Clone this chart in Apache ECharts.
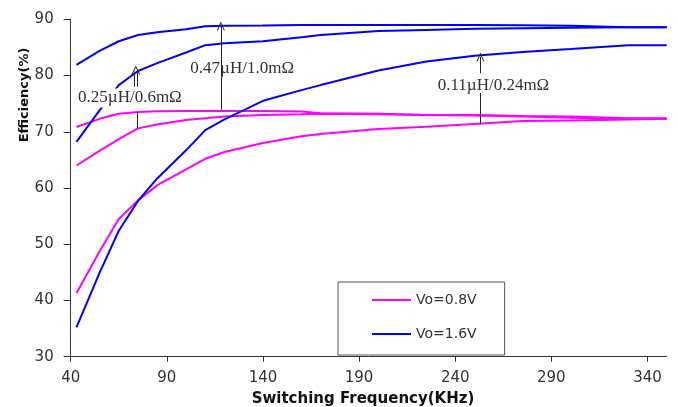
<!DOCTYPE html>
<html><head><meta charset="utf-8">
<script src="https://cdn.jsdelivr.net/npm/echarts@6/dist/echarts.min.js"></script>
<style>html,body{margin:0;padding:0;background:#fff}#c{width:678px;height:407px}</style>
</head><body><div id="c"></div>
<script>
// Switching frequency (KHz) sample points
const freq = [43, 55, 65, 75, 85, 100, 110, 120, 140, 160, 170, 200, 225, 250, 275, 300, 330, 350];
// Vo = 1.6V (blue)
const blue047 = [81.9, 84.4, 86.1, 87.2, 87.7, 88.25, 88.75, 88.85, 88.9, 89.0, 89.0, 89.0, 89.0, 89.0, 88.95, 88.85, 88.6, 88.6];
const blue025 = [68.2, 73.8, 78.3, 80.8, 82.2, 84.1, 85.4, 85.75, 86.1, 86.8, 87.2, 87.9, 88.1, 88.3, 88.4, 88.5, 88.6, 88.6];
const blue011 = [35.2, 44.9, 52.4, 57.7, 61.7, 66.7, 70.3, 72.2, 75.5, 77.4, 78.3, 80.9, 82.5, 83.5, 84.2, 84.7, 85.4, 85.4];
// Vo = 0.8V (magenta)
const pink047 = [70.85, 72.3, 73.2, 73.5, 73.65, 73.7, 73.7, 73.7, 73.7, 73.6, 73.3, 73.2, 73.0, 73.0, 72.8, 72.7, 72.4, 72.4];
const pink025 = [64.0, 66.6, 68.7, 70.6, 71.3, 72.1, 72.4, 72.7, 73.0, 73.1, 73.2, 73.1, 73.0, 72.9, 72.7, 72.5, 72.3, 72.3];
const pink011 = [41.3, 48.7, 54.5, 57.8, 60.5, 63.3, 65.2, 66.4, 68.0, 69.2, 69.6, 70.5, 70.9, 71.4, 71.9, 72.0, 72.2, 72.3];

const xTicks = [40, 90, 140, 190, 240, 290, 340];
const legendNames = ['Vo=0.8V', 'Vo=1.6V'];

// annotations (data units)
const annoText = ['0.47\u00b5H/1.0m\u03a9', '0.25\u00b5H/0.6m\u03a9', '0.11\u00b5H/0.24m\u03a9'];
const annoTextPos = [[129.2, 81.2], [70.8, 76.0], [259.9, 78.3]];
const annoLineX = [118.1, 74.4, 253.1];
const annoLowerSeg = [[73.9, 88.8], [70.7, 73.5], [71.4, 76.9]];
const annoUpperSeg = [null, [78.0, 81.0], [80.4, 83.3]];
const annoDoubleX = [null, [73.1, 74.6], null];

const pair = (ys) => freq.map((f, i) => [f, ys[i]]);

const chevron = 'path://M0,9 L4,0 L8,9 L7,9 L4,2.2 L1,9 Z';
const mlData = [];
annoLineX.forEach((x, i) => {
  const lo = annoLowerSeg[i], up = annoUpperSeg[i], dbl = annoDoubleX[i];
  if (up) {
    mlData.push([{coord: [x, lo[0]], symbol: 'none'}, {coord: [x, lo[1]], symbol: 'none'}]);
    if (dbl) {
      dbl.forEach(dx => mlData.push([{coord: [dx, up[0]], symbol: 'none'}, {coord: [dx, up[1] - 0.3], symbol: 'none'}]));
      const cx = (dbl[0] + dbl[1]) / 2;
      mlData.push([{coord: [cx, up[1] - 0.05], symbol: 'none'}, {coord: [cx, up[1]], symbol: chevron, symbolSize: [9, 9]}]);
    } else {
      mlData.push([{coord: [x, up[0]], symbol: 'none'}, {coord: [x, up[1]], symbol: chevron, symbolSize: [8, 9]}]);
    }
  } else {
    mlData.push([{coord: [x, lo[0]], symbol: 'none'}, {coord: [x, lo[1]], symbol: chevron, symbolSize: [8, 9]}]);
  }
});
const mpData = annoText.map((t, i) => ({
  coord: annoTextPos[i], value: t,
  label: i === 1 ? {backgroundColor: '#fff', padding: [1, 1]} : {}
}));

const font = 'DejaVu Sans';
const mk = (name, color, ys) => ({
  name, type: 'line', data: pair(ys), showSymbol: false, symbol: 'none',
  lineStyle: {color, width: 2}, itemStyle: {color}, silent: true, animation: false
});

const option = {
  animation: false,
  grid: {left: 70.7, right: 11.3, top: 19.3, bottom: 50.3},
  xAxis: {
    type: 'value', min: 40, max: 350,
    axisLine: {show: true, lineStyle: {color: '#333', width: 1}},
    axisTick: {show: true, customValues: xTicks, length: 5, lineStyle: {color: '#333'}},
    axisLabel: {customValues: xTicks, fontSize: 15, color: '#333', fontFamily: font, margin: 14},
    splitLine: {show: false}
  },
  yAxis: {
    type: 'value', min: 30, max: 90, interval: 10,
    axisLine: {show: true, lineStyle: {color: '#333', width: 1}},
    axisTick: {show: true, length: 7, lineStyle: {color: '#333'}},
    axisLabel: {fontSize: 15, color: '#333', fontFamily: font, margin: 17},
    splitLine: {show: false}
  },
  legend: {
    data: legendNames, orient: 'vertical', left: 338, top: 282,
    padding: [11, 28, 14, 34], itemGap: 20, itemWidth: 39, itemHeight: 2, icon: 'rect',
    borderColor: '#555', borderWidth: 1, backgroundColor: '#fff',
    textStyle: {fontSize: 14, fontFamily: font, color: '#333', lineHeight: 14},
    selectedMode: false
  },
  graphic: [
    {type: 'text', x: 24.5, y: 95, rotation: Math.PI / 2,
     style: {text: 'Efficiency(%)', font: 'bold 13px "DejaVu Sans"', fill: '#111', align: 'center', verticalAlign: 'middle'}},
    {type: 'text', x: 363, y: 399,
     style: {text: 'Switching Frequency(KHz)', font: 'bold 15px "DejaVu Sans"', fill: '#111', align: 'center', verticalAlign: 'middle'}}
  ],
  series: [
    mk('Vo=0.8V', '#ff00ff', pink047),
    mk('Vo=0.8V', '#ff00ff', pink025),
    mk('Vo=0.8V', '#ff00ff', pink011),
    mk('Vo=1.6V', '#0000ff', blue047),
    mk('Vo=1.6V', '#0000ff', blue025),
    mk('Vo=1.6V', '#0000ff', blue011),
    {
      name: 'annotations', type: 'line', data: [], z: 5, silent: true,
      markLine: {
        silent: true, animation: false, symbol: ['none', 'none'],
        lineStyle: {color: '#222', width: 1, type: 'solid'},
        label: {show: false}, emphasis: {disabled: true},
        data: mlData
      },
      markPoint: {
        silent: true, animation: false, symbol: 'rect', symbolSize: 1,
        itemStyle: {color: 'rgba(0,0,0,0)'},
        label: {show: true, position: 'inside', formatter: p => p.value,
                fontFamily: 'Liberation Serif', fontSize: 17, color: '#333'},
        data: mpData
      }
    }
  ]
};
const chart = echarts.init(document.getElementById('c'), null, {renderer: 'canvas'});
chart.setOption(option);
</script>
</body></html>
